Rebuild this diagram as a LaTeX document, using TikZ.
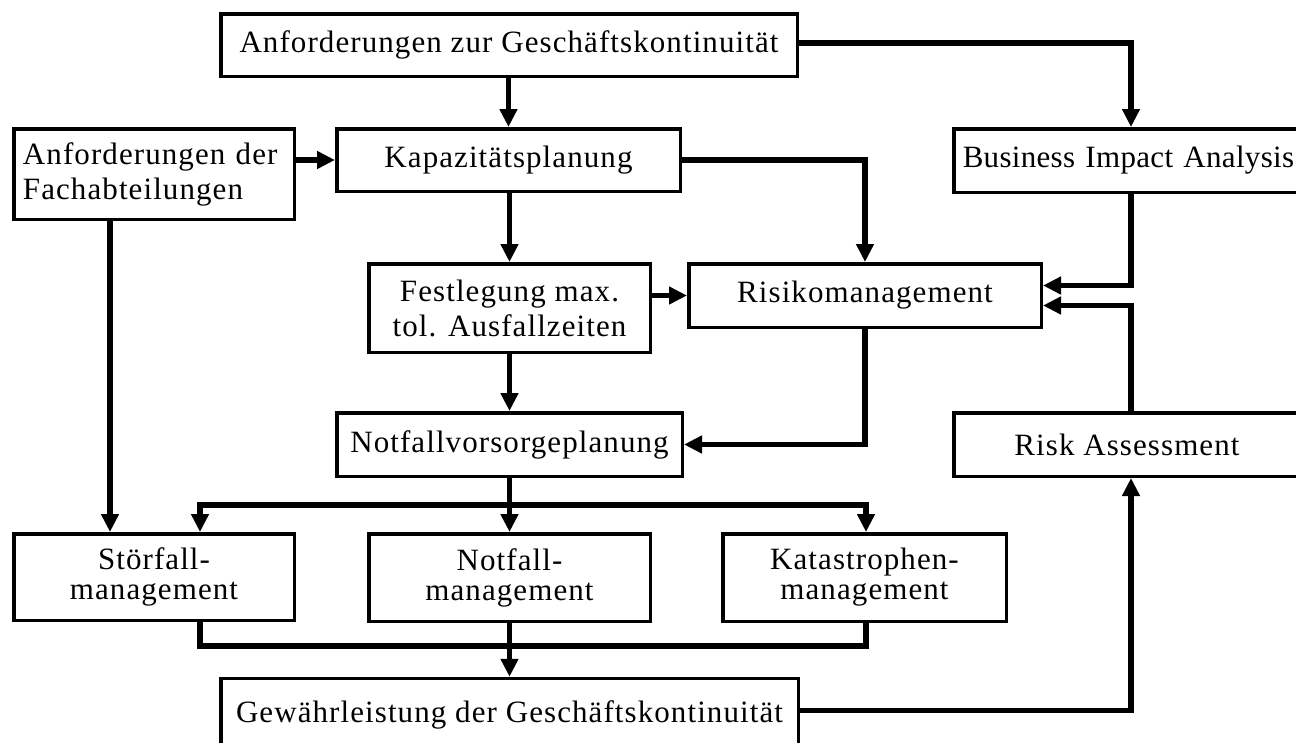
\documentclass[tikz,border=0pt]{standalone}
\usepackage{fontspec}
\setmainfont{Liberation Serif}[LetterSpace=3.5]
\newfontfamily\tightserif{Liberation Serif}[LetterSpace=1]
\usetikzlibrary{arrows.meta,calc}
\begin{document}
\begin{tikzpicture}[x=1pt,y=-1pt,
  box/.style={draw, line width=3.5pt, inner sep=0pt, align=center,
    font=\fontsize{31}{35}\selectfont},
  lowbox/.style={box, font=\fontsize{31}{30}\selectfont},
  wire/.style={line width=5.5pt},
  conn/.style={wire, -{Triangle[width=17pt,length=18pt]}}]
\useasboundingbox (0,0) rectangle (1296,742);
\clip (0,0) rectangle (1296,742);
% boxes
\node[box, minimum width=576.5pt, minimum height=62.5pt] (top) at (509,45) {Anforderungen zur Geschäftskontinuität};
\node[box, minimum width=280.5pt, minimum height=90.5pt, text width=262pt, align=left] (fach) at (154,174) {Anforderungen der\\Fachabteilungen};
\node[box, minimum width=343.5pt, minimum height=62.5pt] (kap) at (508.5,160) {Kapazitätsplanung};
\node[box, minimum width=361pt, minimum height=63.5pt, text width=343pt, inner xsep=9pt, align=left,
  font=\tightserif\fontsize{31}{35}\selectfont] (bia) at (1134.25,160.5) {Business Impact Analysis};
\node[box, minimum width=281.5pt, minimum height=88.5pt] (fest) at (509.5,308) {Festlegung max.\\tol. Ausfallzeiten};
\node[box, minimum width=352.5pt, minimum height=63.5pt] (risk) at (865,295.5) {Risikomanagement};
\node[box, minimum width=345.5pt, minimum height=63.5pt] (nvp) at (509.5,444.5) {Notfallvorsorgeplanung};
\node[box, minimum width=346.5pt, minimum height=63.5pt] (ra) at (1127,444.5) {Risk Assessment};
\node[lowbox, minimum width=280.5pt, minimum height=86.5pt] (stoer) at (154,577) {Störfall-\\management};
\node[lowbox, minimum width=281.5pt, minimum height=87.5pt] (notf) at (509.5,577.5) {Notfall-\\management};
\node[lowbox, minimum width=283.5pt, minimum height=87.5pt] (kat) at (864.5,577.5) {Katastrophen-\\management};
\node[box, minimum width=577.5pt, minimum height=72pt] (gew) at (509.5,714.5) {Gewährleistung der Geschäftskontinuität};
% helper coordinates
\coordinate (split) at (509.5,505);
\coordinate (merge) at (509.5,646);
% connectors
\draw[conn] (top.south -| kap.north) -- (kap.north);
\draw[conn] (fach.east |- kap.west) -- (kap.west);
\draw[conn] ([xshift=-44pt]fach.south) -- ([xshift=-44pt]stoer.north);
\draw[conn] ([yshift=2pt]top.east) -| ([xshift=4pt]ra.north |- bia.north);
\draw[conn] (kap.east) -| (risk.north);
\draw[conn] (kap.south -| fest.north) -- (fest.north);
\draw[conn] (fest.east |- risk.west) -- (risk.west);
\draw[conn] ([xshift=4pt]ra.south |- bia.south) |- ([yshift=10pt]risk.east);
\draw[conn] ([xshift=4pt]ra.north) |- ([yshift=-10pt]risk.east);
\draw[conn] (risk.south) |- (nvp.east);
\draw[conn] (fest.south) -- (nvp.north);
\draw[wire] (nvp.south) -- (split);
\draw[conn] (split) -| ([xshift=46pt]stoer.north);
\draw[conn] (split) -| ([xshift=1.5pt]kat.north);
\draw[conn] (split) -- (notf.north);
\draw[wire] ([xshift=46pt]stoer.south) |- (merge) -| ([xshift=1.5pt]kat.south);
\draw[conn] (notf.south) -- (gew.north);
\draw[conn] ([yshift=4pt]gew.east) -| ([xshift=4pt]ra.south);
\end{tikzpicture}
\end{document}
